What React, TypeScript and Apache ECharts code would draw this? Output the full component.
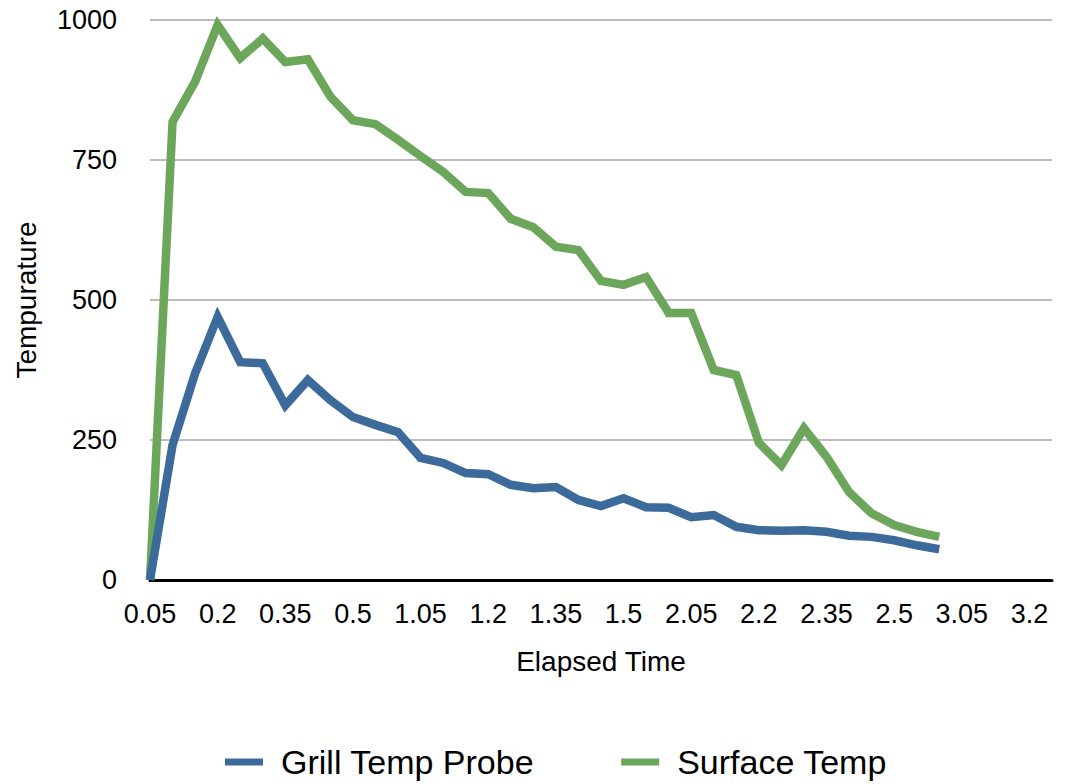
import React, { useEffect, useRef } from "react";
import * as echarts from "echarts";

const categories: string[] = [
  "0.05", "0.1", "0.15", "0.2", "0.25", "0.3", "0.35", "0.4", "0.45", "0.5", "0.55",
  "1", "1.05", "1.1", "1.15", "1.2", "1.25", "1.3", "1.35", "1.4", "1.45", "1.5", "1.55",
  "2", "2.05", "2.1", "2.15", "2.2", "2.25", "2.3", "2.35", "2.4", "2.45", "2.5", "2.55",
  "3", "3.05", "3.1", "3.15", "3.2",
];

const grillTempProbe: number[] = [
  0, 241, 369, 470, 389, 387, 312, 357, 321, 291, 277, 264,
  218, 209, 191, 189, 170, 164, 166, 143, 132, 146, 130, 129,
  112, 116, 95, 89, 88, 89, 86, 79, 77, 71, 62, 55,
];

const surfaceTemp: number[] = [
  0, 818, 890, 991, 932, 967, 925, 930, 863, 821, 814, 786,
  757, 729, 693, 691, 645, 630, 595, 589, 534, 527, 541, 477,
  477, 375, 366, 245, 205, 271, 220, 157, 119, 98, 86, 77,
];

const yTicks = { min: 0, max: 1000, interval: 250 };

const FONT = "'Liberation Sans', Arial, Helvetica, sans-serif";
const BLUE = "#3b6a9b";
const GREEN = "#6ba65a";

export default function App() {
  const ref = useRef<HTMLDivElement>(null);
  useEffect(() => {
    if (!ref.current) return;
    const chart = echarts.init(ref.current, null, { renderer: "svg" });
    chart.setOption({
      animation: false,
      backgroundColor: "#ffffff",
      textStyle: { fontFamily: FONT },
      grid: { left: 150, right: 17, top: 20, bottom: 204, containLabel: false },
      legend: {
        left: 220,
        top: 740,
        itemWidth: 38,
        itemHeight: 7,
        itemGap: 87,
        icon: "rect",
        textStyle: { fontSize: 34, color: "#000", fontFamily: FONT, padding: [0, 0, 0, 13] },
        data: ["Grill Temp Probe", "Surface Temp"],
      },
      xAxis: {
        type: "category",
        data: categories,
        boundaryGap: false,
        max: 40,
        name: "Elapsed Time",
        nameLocation: "middle",
        nameGap: 67,
        nameTextStyle: { fontSize: 28, color: "#000", fontFamily: FONT },
        axisLine: { show: true, lineStyle: { color: "#000", width: 3 } },
        axisTick: { show: false },
        axisLabel: { interval: 2, fontSize: 27, color: "#000", margin: 20, fontFamily: FONT },
        splitLine: { show: false },
      },
      yAxis: {
        type: "value",
        min: yTicks.min,
        max: yTicks.max,
        interval: yTicks.interval,
        name: "Tempurature",
        nameLocation: "middle",
        nameGap: 110,
        nameTextStyle: { fontSize: 28, color: "#000", fontFamily: FONT },
        axisLine: { show: false },
        axisTick: { show: false },
        axisLabel: {
          fontSize: 27,
          color: "#000",
          margin: 33,
          fontFamily: FONT,
          formatter: (v: number) => String(v),
        },
        splitLine: { show: true, lineStyle: { color: "#bdbdbd", width: 2 } },
      },
      series: [
        {
          name: "Grill Temp Probe",
          type: "line",
          data: grillTempProbe,
          showSymbol: false,
          symbol: "none",
          z: 3,
          color: BLUE,
          lineStyle: { color: BLUE, width: 8.5, join: "miter", cap: "butt" },
        },
        {
          name: "Surface Temp",
          type: "line",
          data: surfaceTemp,
          showSymbol: false,
          symbol: "none",
          z: 2,
          color: GREEN,
          lineStyle: { color: GREEN, width: 8.5, join: "miter", cap: "butt" },
        },
      ],
    });
    return () => chart.dispose();
  }, []);
  return <div ref={ref} style={{ width: 1069, height: 784, position: "absolute", left: 0, top: 0 }} />;
}
